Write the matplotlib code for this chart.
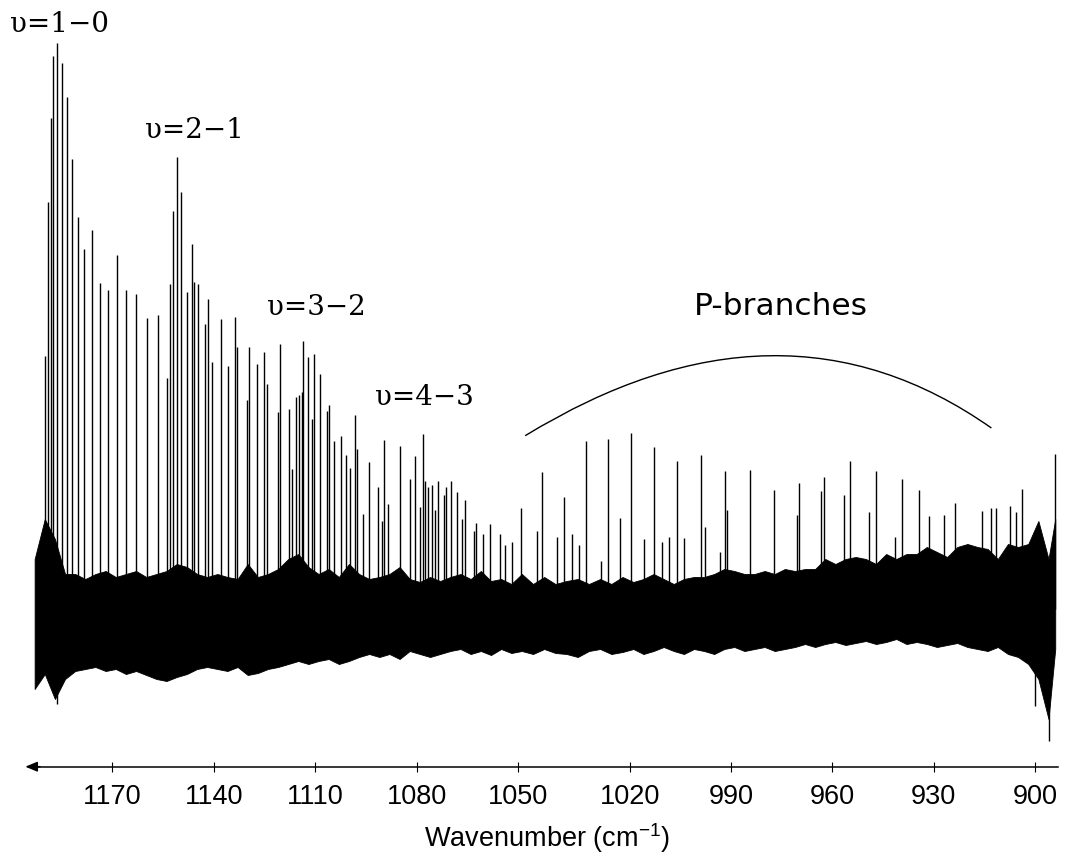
import numpy as np
import matplotlib
matplotlib.use("Agg")
import matplotlib.pyplot as plt
from matplotlib.path import Path
from matplotlib.patches import PathPatch
from matplotlib.ticker import FixedLocator, NullLocator

# ---------------- data ----------------
# sharp rovibrational lines: wavenumber (cm-1) and intensity (arb. units, 0 = baseline)
peak_wn = [1189.8, 1189.0, 1188.3, 1187.5, 1186.3, 1185.0, 1183.5, 1181.9, 1180.2, 1178.3,
           1176.0, 1173.7, 1171.2, 1168.6, 1165.9, 1162.9, 1159.8, 1156.5,
           1153.9, 1153.1, 1152.0, 1150.9, 1149.6, 1148.0, 1146.5, 1145.8, 1144.6, 1142.7, 1141.9, 1140.5,
           1138.0, 1135.9, 1133.7, 1133.2, 1130.3, 1129.5, 1127.3, 1125.1, 1124.3, 1121.1, 1120.5,
           1117.7, 1116.8, 1115.8, 1114.8, 1114.0, 1113.5, 1112.1, 1111.0, 1110.5, 1108.7,
           1106.5, 1106.0, 1104.5, 1102.5, 1100.9, 1099.8, 1098.3, 1097.7, 1095.7, 1094.0,
           1091.4, 1090.3, 1089.7, 1088.4, 1085.0, 1081.8, 1080.3, 1078.9, 1078.1, 1077.5,
           1076.6, 1075.5, 1074.6, 1073.7, 1071.9, 1071.2, 1069.9, 1067.9, 1066.5, 1065.6,
           1063.1, 1062.5, 1060.3, 1058.2, 1055.4, 1053.8, 1051.9,
           1049.3, 1045.0, 1043.7, 1039.7, 1037.8, 1035.5, 1033.8, 1031.9, 1027.7, 1026.0, 1022.8,
           1019.8, 1015.9, 1013.0, 1010.6, 1008.5, 1006.0, 1004.1, 999.0, 997.6, 993.3,
           991.9, 991.1, 984.5, 977.3, 970.4, 969.8, 963.4, 962.3, 956.4, 954.8,
           949.1, 947.0, 941.5, 939.3, 934.4, 931.5, 926.9, 923.6, 915.6, 913.1,
           911.6, 907.5, 905.7, 903.9, 894.2]
peak_int = [253, 407, 491, 553, 566, 546, 512, 450, 392, 360,
            379, 326, 319, 354, 319, 315, 291, 294,
            231, 325, 398, 452, 417, 317, 365, 327, 325, 285, 310, 247,
            290, 243, 292, 262, 209, 262, 245, 257, 225, 197, 265,
            200, 140, 212, 214, 217, 268, 252, 190, 255, 235,
            198, 204, 168, 173, 154, 141, 194, 160, 95, 147,
            122, 88, 169, 105, 163, 130, 153, 102, 175, 128,
            122, 124, 99, 128, 114, 122, 128, 117, 90, 109,
            78, 86, 75, 85, 75, 64, 67,
            101, 78, 137, 72, 112, 75, 64, 168, 48, 170, 91,
            176, 70, 162, 67, 72, 148, 71, 154, 82, 57,
            138, 99, 139, 119, 94, 126, 118, 132, 114, 148,
            97, 138, 72, 130, 119, 93, 94, 106, 98, 101,
            101, 103, 97, 120, 155]

# strongest downward excursions
dip_wn = [1186.4, 900.0, 895.8]
dip_int = [-95, -97, -132]

# noise band envelope sampled along the spectrum
noise_wn = [1193, 1190, 1187, 1184, 1181, 1178, 1175, 1172, 1169, 1166,
            1163, 1160, 1157, 1154, 1151, 1148, 1145, 1142, 1139, 1136,
            1133, 1130, 1127, 1124, 1121, 1118, 1115, 1112, 1109, 1106,
            1103, 1100, 1097, 1094, 1091, 1088, 1085, 1082, 1079, 1076,
            1073, 1070, 1067, 1064, 1061, 1058, 1055, 1052,
            1049, 1046, 1043, 1040, 1037, 1034, 1031, 1028, 1025, 1022,
            1019, 1016, 1013, 1010, 1007, 1004, 1001, 998, 995, 992,
            989, 986, 983, 980, 977, 974, 971, 968, 965, 962,
            959, 956, 953, 950, 947, 944, 941, 938, 935, 932,
            929, 926, 923, 920, 917, 914, 911, 908, 905, 902,
            899, 896, 894]
noise_hi = [50, 90, 70, 35, 35, 30, 35, 38, 32, 35,
            38, 32, 35, 38, 45, 42, 35, 32, 35, 32,
            30, 45, 32, 35, 40, 50, 55, 42, 35, 40,
            32, 45, 35, 30, 32, 35, 42, 30, 27, 32,
            28, 32, 35, 30, 38, 28, 30, 25,
            35, 25, 32, 25, 28, 30, 25, 30, 25, 32,
            27, 30, 35, 30, 25, 30, 32, 32, 35, 40,
            38, 35, 35, 38, 35, 40, 38, 40, 40, 50,
            45, 50, 52, 50, 45, 55, 50, 55, 55, 62,
            57, 52, 62, 65, 62, 60, 50, 65, 62, 65,
            88, 50, 90]
noise_lo = [-80, -65, -90, -70, -62, -60, -58, -62, -60, -65,
            -62, -66, -70, -72, -68, -65, -60, -58, -60, -62,
            -58, -66, -64, -60, -58, -55, -52, -55, -52, -50,
            -55, -52, -48, -45, -48, -45, -50, -42, -45, -48,
            -45, -42, -40, -45, -42, -46, -40, -44,
            -42, -45, -40, -44, -45, -48, -42, -40, -45, -43,
            -40, -45, -42, -38, -42, -45, -40, -42, -45, -40,
            -38, -42, -40, -38, -42, -40, -38, -35, -38, -35,
            -33, -36, -34, -32, -35, -33, -30, -35, -33, -35,
            -38, -36, -34, -38, -40, -42, -38, -45, -48, -55,
            -70, -110, -40]

tick_wn = [1170, 1140, 1110, 1080, 1050, 1020, 990, 960, 930, 900]
tick_labels = [str(t) for t in tick_wn]

# ---------------- axis calibration (the printed axis is not uniform) ----------------
W, H = 1075, 854
tick_px = [112.4, 214.0, 315.2, 416.5, 518.1, 630.0, 731.0, 832.0, 933.6, 1035.0]
cal_wn = np.array([1500.0] + tick_wn + [600.0], dtype=float)
cal_px = np.array([112.4 - 330 * 3.381] + tick_px + [1035.0 + 300 * 3.375])
order = np.argsort(cal_wn)
wn_a, px_a = cal_wn[order], cal_px[order]      # wn ascending, px descending


def px2wn(p):
    return np.interp(p, px_a[::-1], wn_a[::-1])


def fwd(w):          # increasing function of wavenumber
    return -np.interp(w, wn_a, px_a)


def inv(t):
    return px2wn(-np.asarray(t, dtype=float))


plt.rcParams['font.family'] = ['Liberation Sans', 'DejaVu Sans']
plt.rcParams['mathtext.fontset'] = 'custom'
plt.rcParams['mathtext.rm'] = 'Liberation Sans'
plt.rcParams['mathtext.default'] = 'regular'

fig = plt.figure(figsize=(W / 100, H / 100), dpi=100)
ax = fig.add_axes([0, 0, 1, 1])
ax.set_xscale('function', functions=(fwd, inv))
Y0 = 610.0
ax.set_xlim(float(px2wn(0)), float(px2wn(W)))
ax.set_ylim(Y0 - H, Y0)

# spectrum
ax.fill_between(noise_wn, noise_lo, noise_hi, color='black', lw=0.6)
ax.vlines(peak_wn, 0, peak_int, color='black', lw=1.0)
ax.vlines(dip_wn, dip_int, 0, color='black', lw=1.0)

# axis
yax = Y0 - 767.7
for s in ['left', 'right', 'top']:
    ax.spines[s].set_visible(False)
ax.yaxis.set_visible(False)
ax.spines['bottom'].set_position(('data', yax))
ax.spines['bottom'].set_bounds(float(px2wn(1058)), float(px2wn(32)))
ax.spines['bottom'].set_linewidth(1.1)
ax.xaxis.set_major_locator(FixedLocator(tick_wn))
ax.xaxis.set_minor_locator(NullLocator())
ax.set_xticklabels(tick_labels)
ax.tick_params(axis='x', direction='inout', length=7.2, width=0.8, pad=7.9, labelsize=19.5)
ax.annotate('', xy=(float(px2wn(25.3)), yax), xytext=(float(px2wn(40)), yax),
            arrowprops=dict(arrowstyle='-|>,head_length=0.6,head_width=0.25',
                            mutation_scale=12, color='black', lw=1.1,
                            shrinkA=0, shrinkB=0))
ax.set_xlabel('Wavenumber (cm$^{-1}$)', fontsize=19.5)
ax.xaxis.set_label_coords(547 / W, 1 - 847 / H)
ax.xaxis.label.set_va('baseline')

# annotations
serif = dict(family='DejaVu Serif', fontsize=20, ha='left', va='baseline')
ax.text(float(px2wn(10)), Y0 - 32, 'υ=1−0', **serif)
ax.text(float(px2wn(145)), Y0 - 138, 'υ=2−1', **serif)
ax.text(float(px2wn(266.7)), Y0 - 315, 'υ=3−2', **serif)
ax.text(float(px2wn(375)), Y0 - 405, 'υ=4−3', **serif)
ax.text(float(px2wn(781)), Y0 - 315, 'P-branches', family='DejaVu Sans', fontsize=22.5,
        ha='center', va='baseline')
arc = Path([(1048.1, 173.3), (975.35, 329.45), (912.9, 181.0)],
           [Path.MOVETO, Path.CURVE3, Path.CURVE3])
ax.add_patch(PathPatch(arc, fill=False, lw=1.0, color='black', transform=ax.transData))

fig.savefig('out.png', dpi=100)
